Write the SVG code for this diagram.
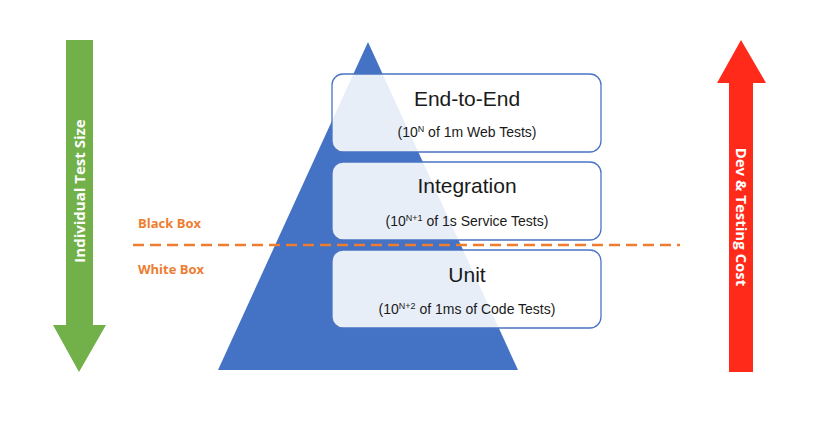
<svg xmlns="http://www.w3.org/2000/svg" width="828" height="431" viewBox="0 0 828 431">
<style>
.box{fill:#ffffff;fill-opacity:0.88;stroke:#4a74c2;stroke-width:1.3}
.ttl{font-family:"Liberation Sans","Open Sans",sans-serif;font-size:21px;fill:#1a1a1a;text-anchor:middle}
.sub{font-family:"Liberation Sans","Open Sans",sans-serif;font-size:14px;fill:#1a1a1a;text-anchor:middle}
.sup{font-size:9px}
.lbl{font-family:"Open Sans","Liberation Sans",sans-serif;font-size:13px;font-weight:bold;fill:#ed7d31}
.arrtxt{font-family:"Open Sans","Liberation Sans",sans-serif;font-size:15px;font-weight:bold;fill:#ffffff;text-anchor:middle}
</style>
<rect width="828" height="431" fill="#ffffff"/>
<g id="size-arrow">
<polygon points="66,40 93,40 93,325 106,325 79,372 53,325 66,325" fill="#72b04a"/>
<text class="arrtxt" transform="translate(84.5,191) rotate(-90)">Individual Test Size</text>
</g>
<g id="cost-arrow">
<polygon points="729,372 753,372 753,83 766,83 741,40 717,83 729,83" fill="#ff2a1a"/>
<text class="arrtxt" transform="translate(735.5,217) rotate(90)">Dev &amp; Testing Cost</text>
</g>
<g id="pyramid">
<polygon points="368,42 518,370 218,370" fill="#4472c4"/>
</g>
<g id="connectors">
<line x1="133" y1="245" x2="680" y2="245" stroke="#ed7d31" stroke-width="2.5" stroke-dasharray="11,6"/>
</g>
<g id="black-box">
<text class="lbl" x="138" y="228">Black Box</text>
</g>
<g id="white-box">
<text class="lbl" x="138" y="274">White Box</text>
</g>
<g id="end-to-end">
<rect class="box" x="332" y="74" width="269" height="78" rx="11"/>
<text class="ttl" x="467" y="106">End-to-End</text>
<text class="sub" x="467" y="137">(10<tspan class="sup" dy="-5">N</tspan><tspan dy="5"> of 1m Web Tests)</tspan></text>
</g>
<g id="integration">
<rect class="box" x="332" y="162" width="269" height="78" rx="11"/>
<text class="ttl" x="467" y="193">Integration</text>
<text class="sub" x="467" y="226">(10<tspan class="sup" dy="-5">N+1</tspan><tspan dy="5"> of 1s Service Tests)</tspan></text>
</g>
<g id="unit">
<rect class="box" x="332" y="250" width="269" height="78" rx="11"/>
<text class="ttl" x="467" y="282">Unit</text>
<text class="sub" x="467" y="314">(10<tspan class="sup" dy="-5">N+2</tspan><tspan dy="5"> of 1ms of Code Tests)</tspan></text>
</g>
</svg>
